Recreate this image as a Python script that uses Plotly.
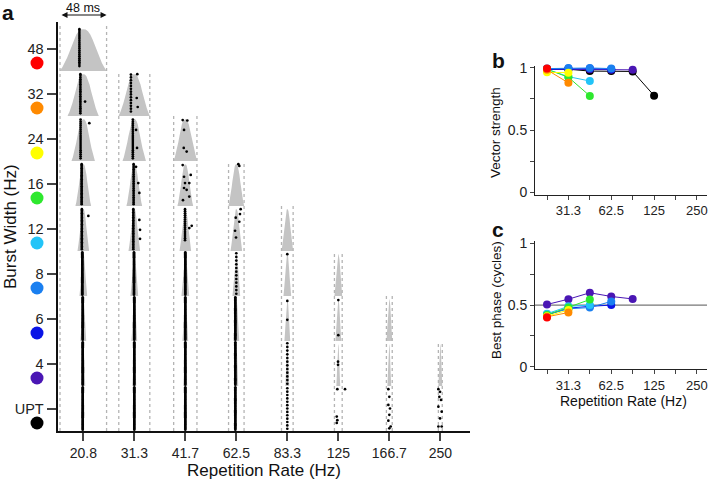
import plotly.graph_objects as go

# ---------------- data ----------------
rates = ["20.8", "31.3", "41.7", "62.5", "83.3", "125", "166.7", "250"]
periods_ms = [48, 32, 24, 16, 12, 8, 6, 4]
burst_labels = ["48", "32", "24", "16", "12", "8", "6", "4", "UPT"]
burst_ms = [48, 32, 24, 16, 12, 8, 6, 4, 0]          # 0 = unmodulated pulse train
burst_colors = ["#FF0000", "#FF8A00", "#FFFF00", "#2EE82E", "#22C4F8",
                "#1A7FF0", "#0A14E6", "#4A16B4", "#000000"]

# stimulus envelope profile (centre -> edge, fraction of burst width), read from the 48 ms burst
env_u = [0.0, 0.05, 0.10, 0.15, 0.20, 0.25, 0.30, 0.35, 0.40, 0.45, 0.50]
env_h = [1.0, 0.99, 0.95, 0.87, 0.75, 0.60, 0.45, 0.31, 0.19, 0.09, 0.02]

# aligned spikes per cell: (row, col, offset ms, n trials with spike, lowest, highest trial fraction)
core_spikes = [
    (0, 0, -4.0, 20, 0.11, 0.93),
    (1, 0, -3.0, 24, 0.06, 0.93), (1, 1, -3.5, 14, 0.10, 0.92),
    (2, 0, -2.8, 20, 0.06, 0.92), (2, 1, -1.5, 20, 0.06, 0.92),
    (3, 0, -1.7, 30, 0.04, 0.93), (3, 1, -0.7, 24, 0.04, 0.93),
    (4, 0, -1.5, 30, 0.04, 0.93), (4, 1, -1.0, 26, 0.04, 0.93), (4, 2, -0.3, 16, 0.24, 0.93),
    (5, 0, -1.0, 45, 0.03, 0.97), (5, 1, -0.3, 45, 0.03, 0.97), (5, 2, 0.0, 45, 0.03, 0.97),
    (5, 3, 0.0, 12, 0.05, 0.95),
    (6, 0, -0.6, 45, 0.03, 0.97), (6, 1, 0.0, 45, 0.03, 0.97), (6, 2, 0.0, 45, 0.03, 0.97),
    (6, 3, -1.0, 40, 0.03, 0.97),
    (7, 0, -0.6, 45, 0.03, 0.97), (7, 1, 0.0, 45, 0.03, 0.97), (7, 2, 0.0, 45, 0.03, 0.97),
    (7, 3, -1.0, 40, 0.03, 0.97), (7, 4, 0.0, 12, 0.05, 0.95),
    (8, 0, -0.6, 45, 0.03, 0.97), (8, 1, 0.0, 45, 0.03, 0.97), (8, 2, 0.0, 45, 0.03, 0.97),
    (8, 3, -1.0, 40, 0.03, 0.97), (8, 4, 0.0, 13, 0.05, 0.95),
]
# scattered spikes: (row, col, offset ms, trial fraction)
loose_spikes = [
    (1, 0, 1.8, 0.32),
    (2, 0, 6.2, 0.84),
    (1, 1, 3.1, 0.93), (1, 1, 2.5, 0.40), (1, 1, 3.5, 0.20),
    (2, 1, 1.8, 0.69), (2, 1, 2.8, 0.29),
    (2, 2, -2.7, 0.91), (2, 2, 2.1, 0.90), (2, 2, -1.3, 0.69), (2, 2, -1.6, 0.29), (2, 2, 1.4, 0.21),
    (3, 1, 1.8, 0.87), (3, 1, 4.1, 0.51), (3, 1, 5.2, 0.29),
    (3, 2, -2.7, 0.91), (3, 2, -1.3, 0.65), (3, 2, 5.6, 0.69), (3, 2, -0.3, 0.51), (3, 2, 4.1, 0.51),
    (3, 2, -1.3, 0.40), (3, 2, 1.4, 0.36), (3, 2, 4.1, 0.21), (3, 2, -2.4, 0.13),
    (3, 3, 2.1, 0.93), (3, 3, 3.1, 0.89),
    (4, 0, 5.2, 0.78),
    (4, 1, 5.2, 0.69), (4, 1, 5.9, 0.47), (4, 1, 5.9, 0.27),
    (4, 2, 4.1, 0.51), (4, 2, 6.6, 0.56),
    (4, 3, 4.5, 0.93), (4, 3, -0.6, 0.74), (4, 3, 3.8, 0.82), (4, 3, 3.1, 0.65), (4, 3, -1.3, 0.45),
    (4, 3, -0.3, 0.30),
    (5, 4, 0.0, 0.93),
    (6, 4, 0.0, 0.89), (6, 4, 0.0, 0.47),
    (6, 5, 0.0, 0.91), (6, 5, 0.0, 0.13),
    (7, 5, -0.3, 0.54), (7, 5, -0.3, 0.47),
    (8, 5, -1.0, 0.93), (8, 5, 6.9, 0.93), (8, 5, -1.6, 0.32), (8, 5, -1.0, 0.24), (8, 5, -1.6, 0.18),
    (8, 6, -1.0, 0.93), (8, 6, 0.0, 0.76), (8, 6, -1.0, 0.58), (8, 6, 0.7, 0.50), (8, 6, 0.0, 0.36),
    (8, 6, -1.0, 0.23), (8, 6, 1.4, 0.10), (8, 6, 0.0, 0.06),
    (8, 7, -2.0, 0.93), (8, 7, -0.3, 0.87), (8, 7, -1.0, 0.76), (8, 7, 0.7, 0.69), (8, 7, -2.0, 0.54),
    (8, 7, 1.4, 0.43), (8, 7, -0.3, 0.28), (8, 7, -2.0, 0.10), (8, 7, 1.4, 0.10),
]

# panel b / c: one list per burst width, indexed by repetition rate
vector_strength = [
    [0.995],
    [0.985, 0.88],
    [0.965, 0.962],
    [0.99, 0.925, 0.775],
    [0.99, 0.93, 0.895],
    [0.995, 1.0, 1.0, 0.995],
    [0.99, 0.995, 0.995, 0.99],
    [0.99, 0.99, 0.99, 0.985, 0.985],
    [0.99, 0.99, 0.975, 0.975, 0.972, 0.777],
]
best_phase = [
    [0.40],
    [0.405, 0.44],
    [0.41, 0.46],
    [0.42, 0.48, 0.545],
    [0.43, 0.49, 0.50],
    [0.425, 0.47, 0.48, 0.53],
    [0.42, 0.475, 0.49, 0.50],
    [0.505, 0.548, 0.60, 0.57, 0.55],
    [],
]

# ---------------- layout constants ----------------
W, H = 708, 481
COL_STEP = 52.58          # ms between column centres in panel a
ENV_PEAK = 0.93
FONT = "Liberation Sans, Arial, sans-serif"
nrows = len(burst_labels)

def px_x(p):
    return p / W

def px_y(p):
    return 1 - p / H

fig = go.Figure()

# gray stimulus envelopes
ex, ey = [], []
for i in range(nrows - 1):
    base = (nrows - 1) - i
    b = burst_ms[i]
    for k in range(len(rates)):
        if periods_ms[k] < b:
            continue
        cx = k * COL_STEP
        xs = [cx - u * b for u in reversed(env_u)] + [cx + u * b for u in env_u[1:]]
        ys = [base + ENV_PEAK * h for h in reversed(env_h)] + [base + ENV_PEAK * h for h in env_h[1:]]
        ex += [cx - 0.5 * b] + xs + [cx + 0.5 * b, None]
        ey += [base] + ys + [base, None]
fig.add_trace(go.Scatter(x=ex, y=ey, mode="lines", fill="toself", fillcolor="#C4C4C4",
                         line=dict(width=0, color="#C4C4C4"), hoverinfo="skip",
                         xaxis="x", yaxis="y"))

# dashed period boundaries
dx, dy = [], []
for k, per in enumerate(periods_ms):
    cx = k * COL_STEP
    top = nrows - k
    for side in (-1, 1):
        dx += [cx + side * per / 2, cx + side * per / 2, None]
        dy += [0, top, None]
fig.add_trace(go.Scatter(x=dx, y=dy, mode="lines",
                         line=dict(color="#B4B4B4", width=1.3, dash="3px,3px"),
                         hoverinfo="skip", xaxis="x", yaxis="y"))

# spike rasters
sx, sy = [], []
for (i, k, off, n, lo, hi) in core_spikes:
    base = (nrows - 1) - i
    for j in range(n):
        sx.append(k * COL_STEP + off)
        sy.append(base + lo + (hi - lo) * j / (n - 1))
for (i, k, off, fr) in loose_spikes:
    sx.append(k * COL_STEP + off)
    sy.append((nrows - 1) - i + fr)
fig.add_trace(go.Scatter(x=sx, y=sy, mode="markers",
                         marker=dict(color="black", size=2.7, line=dict(width=0)),
                         hoverinfo="skip", xaxis="x", yaxis="y"))

# coloured keys beside y tick labels (own helper x axis in pixel units, sharing y)
fig.add_trace(go.Scatter(x=[37] * nrows,
                         y=[nrows - 0.5 - i - 0.322 for i in range(nrows)],
                         mode="markers",
                         marker=dict(color=burst_colors, size=13, line=dict(width=0)),
                         hoverinfo="skip", xaxis="x4", yaxis="y"))

# panels b and c
order = [8, 7, 6, 5, 4, 3, 2, 1, 0]
for i in order:
    vals = vector_strength[i]
    if vals:
        fig.add_trace(go.Scatter(x=list(range(len(vals))), y=vals, mode="lines+markers",
                                 line=dict(color=burst_colors[i], width=1),
                                 marker=dict(color=burst_colors[i], size=8),
                                 cliponaxis=False, xaxis="x2", yaxis="y2"))
for i in order:
    vals = best_phase[i]
    if vals:
        fig.add_trace(go.Scatter(x=list(range(len(vals))), y=vals, mode="lines+markers",
                                 line=dict(color=burst_colors[i], width=1),
                                 marker=dict(color=burst_colors[i], size=8),
                                 cliponaxis=False, xaxis="x3", yaxis="y3"))

x_left_a = (57.5 - 83.3) / 0.97
x_right_a = (470 - 83.3) / 0.97

small_ticks = ["", "31.3", "", "62.5", "", "125", "", "250"]

common_bc_x = dict(range=[-0.56, 7.47], tickmode="array", tickvals=list(range(len(rates))),
                   ticktext=small_ticks, ticks="outside", ticklen=4, tickwidth=1,
                   showline=True, linecolor="#222", linewidth=1, showgrid=False, zeroline=False,
                   ticklabeloverflow="allow",
                   tickfont=dict(size=13, color="#222", family=FONT), domain=[px_x(535), px_x(707)])
common_bc_y = dict(range=[-0.02, 1.02], tickmode="array", tickvals=[0, 0.25, 0.5, 0.75, 1],
                   ticktext=["0", "", "0.5", "", "1"], ticks="outside", ticklen=4, tickwidth=1,
                   showline=True, linecolor="#222", linewidth=1, showgrid=False, zeroline=False,
                   tickfont=dict(size=14, color="#222", family=FONT))

fig.update_layout(
    width=W, height=H, margin=dict(l=0, r=0, t=0, b=0, autoexpand=False),
    paper_bgcolor="white", plot_bgcolor="white", showlegend=False,
    font=dict(family=FONT, color="#222"),
    xaxis=dict(domain=[px_x(57.5), px_x(470)], range=[x_left_a, x_right_a],
               tickmode="array", tickvals=[k * COL_STEP for k in range(len(rates))],
               ticktext=rates, ticks="outside", ticklen=8, tickwidth=1.5,
               showline=True, linecolor="#111", linewidth=1.8, showgrid=False, zeroline=False,
               ticklabeloverflow="allow",
               tickfont=dict(size=14, color="#222", family=FONT)),
    yaxis=dict(domain=[px_y(431), px_y(21.5)], range=[0, 9.1],
               tickmode="array", tickvals=[nrows - 0.5 - i for i in range(nrows)],
               ticktext=burst_labels, ticks="outside", ticklen=9, tickwidth=1.5,
               showline=True, linecolor="#111", linewidth=1.8, showgrid=False, zeroline=False,
               tickfont=dict(size=14.5, color="#222", family=FONT)),
    xaxis4=dict(domain=[0, px_x(57.5)], range=[0, 57.5], visible=False, anchor="y"),
    xaxis2=dict(anchor="y2", **common_bc_x),
    yaxis2=dict(anchor="x2", domain=[px_y(194.5), px_y(65.5)], **common_bc_y),
    xaxis3=dict(anchor="y3", **common_bc_x),
    yaxis3=dict(anchor="x3", domain=[px_y(369.2), px_y(241)], **common_bc_y),
)

fig.add_shape(type="line", xref="x3 domain", yref="y3", x0=0, x1=1, y0=0.5, y1=0.5,
              line=dict(color="#555", width=1), layer="below")

ann = [
    dict(text="<b>a</b>", x=px_x(8), y=px_y(12), size=21),
    dict(text="<b>b</b>", x=px_x(498), y=px_y(61), size=21),
    dict(text="<b>c</b>", x=px_x(498), y=px_y(229), size=21),
    dict(text="Repetition Rate (Hz)", x=px_x(264), y=px_y(470), size=17),
    dict(text="Repetition Rate (Hz)", x=px_x(623), y=px_y(401), size=14),
]
for a in ann:
    fig.add_annotation(text=a["text"], x=a["x"], y=a["y"], xref="paper", yref="paper",
                       showarrow=False, xanchor="center", yanchor="middle",
                       font=dict(size=a["size"], color="#111", family=FONT))
for txt, xx, yy, sz in [("Burst Width (Hz)", 10, 227, 17),
                        ("Vector strength", 496, 133, 13.5),
                        ("Best phase (cycles)", 496, 300, 13.5)]:
    fig.add_annotation(text=txt, x=px_x(xx), y=px_y(yy), xref="paper", yref="paper",
                       showarrow=False, textangle=-90, xanchor="center", yanchor="middle",
                       font=dict(size=sz, color="#111", family=FONT))

# 48 ms scale arrow over first column (x in data ms, y in page pixels)
fig.add_annotation(x=periods_ms[0] / 2, y=px_y(15), ax=-periods_ms[0] / 2, ay=0,
                   xref="x", yref="paper", axref="x", ayref="pixel", text="", showarrow=True,
                   arrowhead=2, startarrowhead=2, arrowside="end+start",
                   arrowsize=1, arrowwidth=1.2, arrowcolor="#111")
fig.add_annotation(x=0, y=1.0, xref="x", yref="paper", text="48 ms",
                   showarrow=False, yanchor="top", borderpad=0,
                   font=dict(size=12.5, color="#111", family=FONT))

fig.write_html("out.html", post_script="document.body.style.margin='0';",
               config={"displayModeBar": False})
